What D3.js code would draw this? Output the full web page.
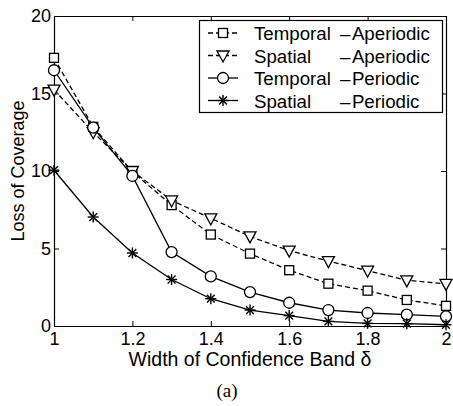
<!DOCTYPE html>
<html>
<head>
<meta charset="utf-8">
<script src="https://cdn.jsdelivr.net/npm/d3@7"></script>
<style>
body { margin: 0; background: #fff; }
svg { display: block; font-family: "Liberation Sans", Arial, sans-serif; }
</style>
</head>
<body>
<svg width="453" height="406"></svg>
<script>
// widths of confidence band
var deltas = [1, 1.1, 1.2, 1.3, 1.4, 1.5, 1.6, 1.7, 1.8, 1.9, 2];

var temporalAperiodic = [17.3, 12.85, 9.95, 7.8, 5.9, 4.67, 3.6, 2.73, 2.28, 1.68, 1.3];
var spatialAperiodic  = [15.25, 12.5, 10.0, 8.1, 6.95, 5.78, 4.86, 4.19, 3.57, 2.95, 2.72];
var temporalPeriodic  = [16.5, 12.8, 9.68, 4.77, 3.2, 2.19, 1.5, 1.03, 0.84, 0.73, 0.62];
var spatialPeriodic   = [10.05, 7.03, 4.71, 3.0, 1.76, 1.03, 0.67, 0.3, 0.17, 0.15, 0.08];

var xTicks = [1, 1.2, 1.4, 1.6, 1.8, 2];
var yTicks = [0, 5, 10, 15, 20];

var seriesNames = ["Temporal", "Spatial", "Temporal", "Spatial"];
var seriesKinds = ["Aperiodic", "Aperiodic", "Periodic", "Periodic"];

var svg = d3.select("svg"),
margin = {left: 54, right: 7, top: 16, bottom: 80},
width = +svg.attr("width") - margin.left - margin.right,
height = +svg.attr("height") - margin.top - margin.bottom;

var x = d3.scaleLinear().domain([1, 2]).range([margin.left, margin.left + width]);
var y = d3.scaleLinear().domain([0, 20]).range([margin.top + height, margin.top]);

var series = [
  {values: temporalAperiodic, dash: "5,3", marker: "square"},
  {values: spatialAperiodic, dash: "5,3", marker: "triangle"},
  {values: temporalPeriodic, dash: null, marker: "circle"},
  {values: spatialPeriodic, dash: null, marker: "star"}
];

// axes, ticks pointing inward, MATLAB box style
var tickLen = 5;
svg.append("g").attr("transform", "translate(0," + y(0) + ")")
  .call(d3.axisBottom(x).tickValues(xTicks).tickSizeInner(-tickLen).tickSizeOuter(0).tickPadding(6)
    .tickFormat(function (d) { return d3.format("")(+d.toFixed(1)); }));
svg.append("g").attr("transform", "translate(0," + y(20) + ")")
  .call(d3.axisTop(x).tickValues(xTicks).tickSizeInner(-tickLen).tickSizeOuter(0).tickFormat(""));
svg.append("g").attr("transform", "translate(" + x(1) + ",0)")
  .call(d3.axisLeft(y).tickValues(yTicks).tickSizeInner(-tickLen).tickSizeOuter(0).tickPadding(3));
svg.append("g").attr("transform", "translate(" + x(2) + ",0)")
  .call(d3.axisRight(y).tickValues(yTicks).tickSizeInner(-tickLen).tickSizeOuter(0).tickFormat(""));

svg.selectAll(".domain").attr("stroke", "#000").attr("stroke-width", 1.2);
svg.selectAll(".tick line").attr("stroke", "#000");
svg.selectAll(".tick text").attr("font-size", 18).attr("fill", "#000")
  .attr("font-family", "'Liberation Sans', Arial, sans-serif");

var line = d3.line().x(function (d, i) { return x(deltas[i]); }).y(function (d) { return y(d); });

function drawMarker(g, kind, cx, cy) {
  if (kind == "square") {
    g.append("rect").attr("x", cx - 4.5).attr("y", cy - 4.5).attr("width", 9).attr("height", 9)
      .attr("fill", "#fff").attr("stroke", "#000").attr("stroke-width", 1.3);
  } else if (kind == "triangle") {
    g.append("path").attr("d", "M" + (cx - 6) + "," + (cy - 4.5) + "L" + (cx + 6) + "," + (cy - 4.5) + "L" + cx + "," + (cy + 6.5) + "Z")
      .attr("fill", "#fff").attr("stroke", "#000").attr("stroke-width", 1.3);
  } else if (kind == "circle") {
    g.append("circle").attr("cx", cx).attr("cy", cy).attr("r", 5.5)
      .attr("fill", "#fff").attr("stroke", "#000").attr("stroke-width", 1.3);
  } else {
    var r = 5.5;
    [0, 45, 90, 135].forEach(function (a) {
      var t = a * Math.PI / 180;
      g.append("line").attr("x1", cx - r * Math.cos(t)).attr("y1", cy - r * Math.sin(t))
        .attr("x2", cx + r * Math.cos(t)).attr("y2", cy + r * Math.sin(t))
        .attr("stroke", "#000").attr("stroke-width", 1.4);
    });
  }
}

var plot = svg.append("g");
series.forEach(function (s) {
  plot.append("path").datum(s.values).attr("d", line)
    .attr("fill", "none").attr("stroke", "#000").attr("stroke-width", 1.3)
    .attr("stroke-dasharray", s.dash);
  var mg = plot.append("g");
  s.values.forEach(function (v, i) { drawMarker(mg, s.marker, x(deltas[i]), y(v)); });
});

// legend
var lg = svg.append("g");
lg.append("rect").attr("x", 199.5).attr("y", 20.5).attr("width", 243).attr("height", 92)
  .attr("fill", "#fff").attr("stroke", "#000").attr("stroke-width", 1.2);
series.forEach(function (s, i) {
  var cy = 33 + i * 22.5;
  lg.append("line").attr("x1", 208).attr("x2", 238).attr("y1", cy).attr("y2", cy)
    .attr("stroke", "#000").attr("stroke-width", 1.3).attr("stroke-dasharray", s.dash);
  drawMarker(lg, s.marker, 223, cy);
  lg.append("text").attr("x", 254).attr("y", cy + 7).attr("font-size", 18.7).text(seriesNames[i]);
  var t = lg.append("text").attr("x", 340).attr("y", cy + 7).attr("font-size", 18.7);
  t.append("tspan").text("\u2013");
  t.append("tspan").attr("dx", 1.5).text(seriesKinds[i]);
});

// axis titles
svg.append("text").attr("x", x(1.5)).attr("y", 366).attr("text-anchor", "middle")
  .attr("font-size", 19.5).text("Width of Confidence Band \u03b4");
svg.append("text").attr("transform", "translate(24," + y(10) + ") rotate(-90)")
  .attr("text-anchor", "middle").attr("font-size", 18).text("Loss of Coverage");
svg.append("text").attr("x", 227).attr("y", 397).attr("text-anchor", "middle")
  .attr("font-family", "'Liberation Serif', 'Times New Roman', serif").attr("font-size", 19).text("(a)");
</script>
</body>
</html>
